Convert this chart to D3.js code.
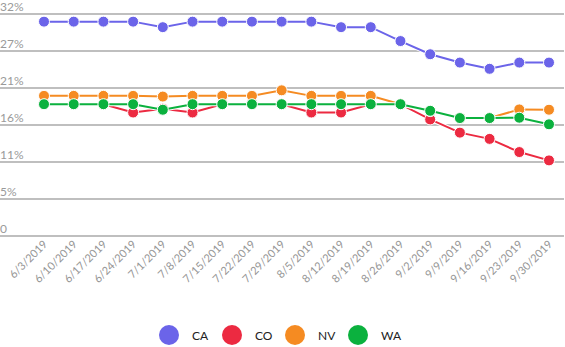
<!DOCTYPE html>
<html><head><meta charset="utf-8">
<script src="https://cdn.jsdelivr.net/npm/d3@7"></script>
<style>
html,body{margin:0;padding:0;background:#fff;}
svg{display:block;font-family:Lato,"Open Sans",sans-serif;}
</style></head>
<body><svg id="c" width="565" height="347"></svg>
<script>
const dates = ["6/3/2019","6/10/2019","6/17/2019","6/24/2019","7/1/2019","7/8/2019","7/15/2019","7/22/2019","7/29/2019","8/5/2019","8/12/2019","8/19/2019","8/26/2019","9/2/2019","9/9/2019","9/16/2019","9/23/2019","9/30/2019"];
const seriesNames = ["CA","CO","NV","WA"];
const caValues = [30.9,30.9,30.9,30.9,30.1,30.9,30.9,30.9,30.9,30.9,30.1,30.1,28.1,26.2,25.0,24.1,25.0,25.0];
const coValues = [19.0,19.0,19.0,17.8,18.35,17.8,19.0,19.0,19.0,17.8,17.8,19.0,19.0,16.8,14.9,14.0,12.1,10.9];
const nvValues = [20.2,20.2,20.2,20.2,20.1,20.2,20.2,20.2,21.0,20.2,20.2,20.2,19.0,18.0,17.0,17.0,18.25,18.2];
const waValues = [19.0,19.0,19.0,19.0,18.2,19.0,19.0,19.0,19.0,19.0,19.0,19.0,19.0,18.05,17.0,17.0,17.05,16.1];
const yTicks = [0, 32/6, 64/6, 16, 128/6, 160/6, 32];
const colors = ["#6b64e9","#ec2a41","#f58b22","#0bb13e"];

const series = [caValues, coValues, nvValues, waValues].map((v,i)=>({name:seriesNames[i], values:v, color:colors[i]}));

const svg = d3.select("#c");
const x = d3.scalePoint().domain(dates).range([44, 549]);
const y = d3.scaleLinear().domain([0, 32]).range([236, 14]);

// gridlines + labels
const g = svg.append("g");
g.selectAll("line.grid").data(yTicks).join("line")
  .attr("x1", 0).attr("x2", 564)
  .attr("y1", d=>y(d)).attr("y2", d=>y(d))
  .attr("stroke", "#aaaaaa").attr("stroke-width", 1.5);
g.selectAll("text.yl").data(yTicks).join("text")
  .attr("x", 0).attr("y", d=>y(d)-3)
  .attr("fill", "#9a9a9a").attr("font-size", 12)
  .text(d => d === 0 ? "0" : Math.round(d) + "%");

// x labels
svg.append("g").selectAll("text").data(dates).join("text")
  .attr("transform", d => `translate(${x(d)+4},${245}) rotate(-45)`)
  .attr("text-anchor", "end")
  .attr("fill", "#959595").attr("font-size", 11)
  .text(d=>d);

const line = d3.line().x((d,i)=>x(dates[i])).y(d=>y(d));

series.forEach(s => {
  const sg = svg.append("g");
  sg.append("path").attr("d", line(s.values)).attr("fill","none")
    .attr("stroke","#fff").attr("stroke-width",4);
  sg.append("path").attr("d", line(s.values)).attr("fill","none")
    .attr("stroke",s.color).attr("stroke-width",2);
  sg.selectAll("circle").data(s.values).join("circle")
    .attr("cx",(d,i)=>x(dates[i])).attr("cy",d=>y(d)).attr("r",5.5)
    .attr("fill",s.color).attr("stroke","#fff").attr("stroke-width",1);
});

// legend
const lg = svg.append("g");
series.forEach((s,i) => {
  const lx = 169 + i*63;
  lg.append("circle").attr("cx", lx).attr("cy", 335).attr("r", 10).attr("fill", s.color);
  lg.append("text").attr("x", lx+23).attr("y", 339.5).attr("font-size", 12)
    .attr("fill", "#222").text(s.name);
});
</script></body></html>
